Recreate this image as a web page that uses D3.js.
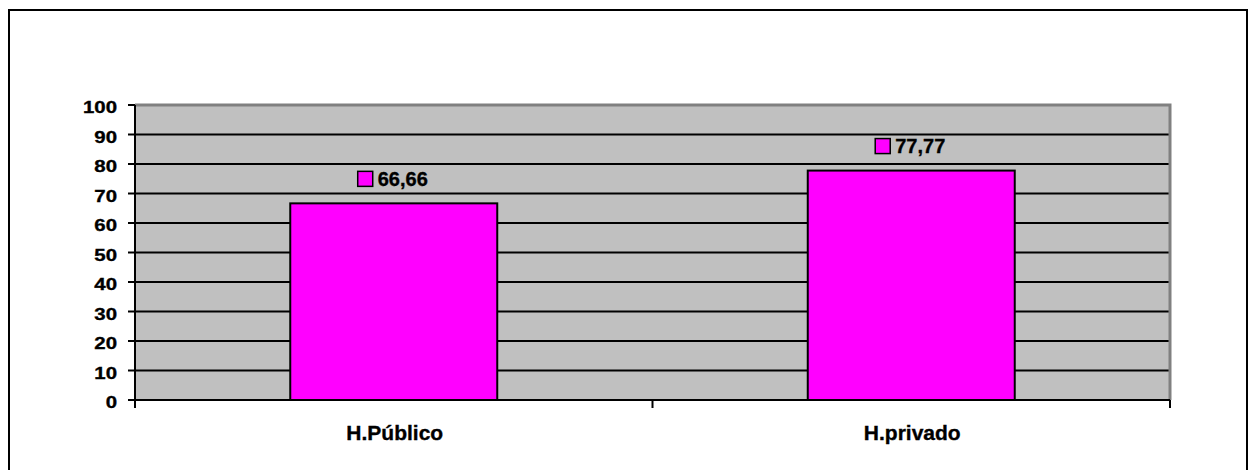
<!DOCTYPE html>
<html>
<head>
<meta charset="utf-8">
<script src="https://cdn.jsdelivr.net/npm/d3@7"></script>
<style>
  html, body { margin: 0; padding: 0; background: #fff; }
  svg { display: block; }
  text { font-family: Arial, "Liberation Sans", sans-serif; font-weight: bold; fill: #000; stroke: #000; stroke-width: 0.35px; }
</style>
</head>
<body>
<svg id="chart" width="1249" height="470"></svg>
<script>
const categories = ["H.Público", "H.privado"];
const values = [66.66, 77.77];
const valueLabels = ["66,66", "77,77"];
const yTicks = [0, 10, 20, 30, 40, 50, 60, 70, 80, 90, 100];

const svg = d3.select("#chart");
const plot = { left: 135, right: 1170, top: 105, bottom: 400 };

// outer frame
svg.append("rect")
  .attr("x", 9).attr("y", 10).attr("width", 1238).attr("height", 480)
  .attr("fill", "#fff").attr("stroke", "#000").attr("stroke-width", 2);

const x = d3.scaleBand().domain(categories).range([plot.left, plot.right]).paddingInner(0).paddingOuter(0);
const y = d3.scaleLinear().domain([0, 100]).range([plot.bottom, plot.top]);

// plot background
svg.append("rect")
  .attr("x", plot.left).attr("y", plot.top)
  .attr("width", plot.right - plot.left).attr("height", plot.bottom - plot.top)
  .attr("fill", "#C0C0C0");

// gridlines
svg.append("g").selectAll("line").data(yTicks.filter(d => d > 0 && d < 100)).join("line")
  .attr("x1", plot.left).attr("x2", plot.right)
  .attr("y1", d => y(d)).attr("y2", d => y(d))
  .attr("stroke", "#000").attr("stroke-width", 2);

// plot area top/right border (gray)
svg.append("path")
  .attr("d", `M${plot.left},${y(100)} H${plot.right} V${plot.bottom}`)
  .attr("fill", "none").attr("stroke", "#808080").attr("stroke-width", 3);

// bars
const barW = x.bandwidth() * 0.4;
svg.append("g").selectAll("rect").data(categories).join("rect")
  .attr("x", d => x(d) + (x.bandwidth() - barW) / 2)
  .attr("y", (d, i) => y(values[i]))
  .attr("width", barW)
  .attr("height", (d, i) => y(0) - y(values[i]))
  .attr("fill", "#FF00FF").attr("stroke", "#000").attr("stroke-width", 2);

// y axis
const yAxis = svg.append("g").attr("transform", `translate(${plot.left},0)`);
yAxis.append("line").attr("x1", 0).attr("x2", 0).attr("y1", plot.top).attr("y2", plot.bottom)
  .attr("stroke", "#000").attr("stroke-width", 2);
yAxis.selectAll("line.tick").data(yTicks).join("line").attr("class", "tick")
  .attr("x1", -7).attr("x2", 0).attr("y1", d => y(d)).attr("y2", d => y(d))
  .attr("stroke", "#000").attr("stroke-width", 2);
yAxis.selectAll("text").data(yTicks).join("text")
  .attr("transform", d => `translate(-18,${y(d) + 8}) scale(1.2,1)`)
  .attr("text-anchor", "end")
  .style("font-size", "17px")
  .text(d => d);

// x axis
const xAxis = svg.append("g");
xAxis.append("line").attr("x1", plot.left).attr("x2", plot.right)
  .attr("y1", plot.bottom).attr("y2", plot.bottom)
  .attr("stroke", "#000").attr("stroke-width", 2);
const xTickPos = categories.map(c => x(c)).concat([plot.right]);
xAxis.selectAll("line.tick").data(xTickPos).join("line").attr("class", "tick")
  .attr("x1", d => d).attr("x2", d => d).attr("y1", plot.bottom).attr("y2", plot.bottom + 8)
  .attr("stroke", "#000").attr("stroke-width", 2);
xAxis.selectAll("text").data(categories).join("text")
  .attr("x", d => x(d) + x.bandwidth() / 2 + 1)
  .attr("y", 439.5)
  .attr("text-anchor", "middle")
  .style("font-size", "21px")
  .text(d => d);

// value labels with legend key
const lbl = svg.append("g").selectAll("g").data(categories).join("g")
  .attr("transform", (d, i) => `translate(${x(d) + x.bandwidth() / 2},${y(values[i]) - 24.5})`);
lbl.each(function(d, i) {
  const g = d3.select(this);
  const t = g.append("text").attr("y", 7).style("font-size", "20px").text(valueLabels[i]);
  const tw = t.node().getComputedTextLength();
  const sq = 15, gap = 5;
  const total = sq + gap + tw;
  const x0 = -total / 2 - 1;
  g.append("rect").attr("x", x0).attr("y", -sq / 2).attr("width", sq).attr("height", sq)
    .attr("fill", "#FF00FF").attr("stroke", "#000").attr("stroke-width", 1.5);
  t.attr("x", x0 + sq + gap);
});
</script>
</body>
</html>
